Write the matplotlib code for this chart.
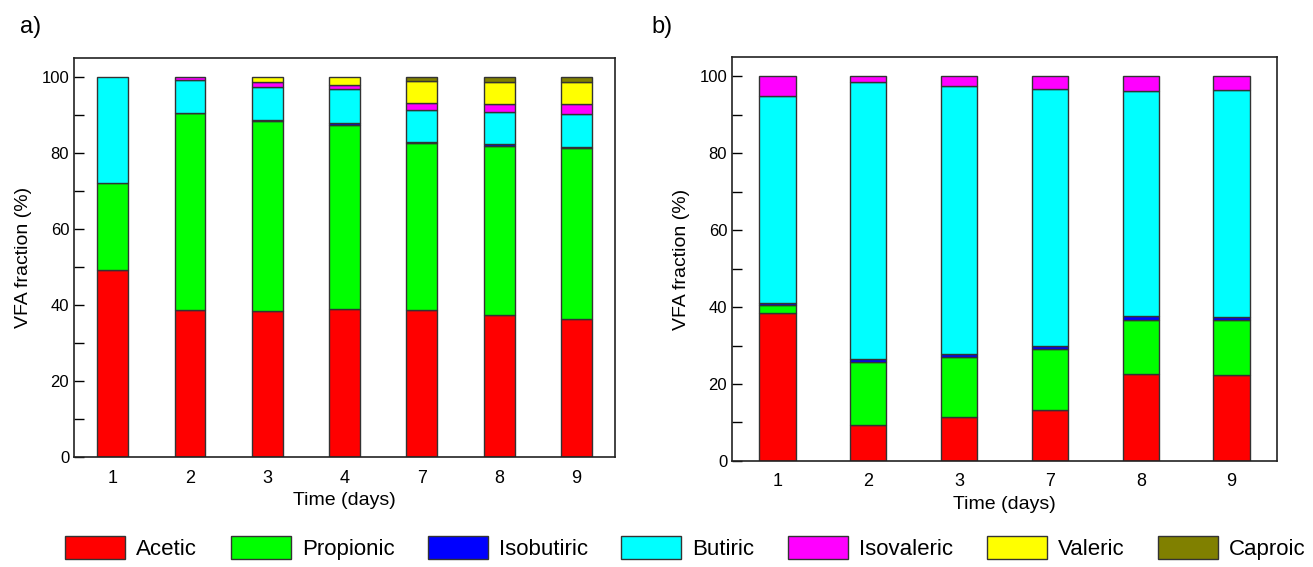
import matplotlib.pyplot as plt
from matplotlib.ticker import MultipleLocator
import numpy as np

plt.rcParams['font.family'] = ['Liberation Sans', 'DejaVu Sans']

acids = ['Acetic', 'Propionic', 'Isobutiric', 'Butiric', 'Isovaleric', 'Valeric', 'Caproic']
colors = ['#ff0000', '#00ff00', '#0000ff', '#00ffff', '#ff00ff', '#ffff00', '#808000']

# panel a)
days_a = ['1', '2', '3', '4', '7', '8', '9']
acetic_a = [49.1, 38.7, 38.3, 38.9, 38.7, 37.5, 36.3]
propionic_a = [22.9, 51.7, 50.0, 48.6, 43.9, 44.4, 44.9]
isobutiric_a = [0.0, 0.1, 0.3, 0.3, 0.3, 0.5, 0.4]
butiric_a = [28.0, 8.8, 8.7, 9.0, 8.4, 8.5, 8.6]
isovaleric_a = [0.0, 0.7, 1.3, 1.2, 1.9, 2.0, 2.6]
valeric_a = [0.0, 0.0, 1.4, 2.0, 5.7, 5.8, 5.9]
caproic_a = [0.0, 0.0, 0.0, 0.0, 1.1, 1.3, 1.3]

# panel b)
days_b = ['1', '2', '3', '7', '8', '9']
acetic_b = [38.4, 9.3, 11.3, 13.2, 22.6, 22.3]
propionic_b = [2.1, 16.5, 15.8, 15.9, 14.1, 14.3]
isobutiric_b = [0.5, 0.7, 0.6, 0.7, 1.0, 0.9]
butiric_b = [53.8, 71.9, 69.8, 66.8, 58.5, 58.9]
isovaleric_b = [5.2, 1.6, 2.5, 3.4, 3.8, 3.6]
valeric_b = [0.0, 0.0, 0.0, 0.0, 0.0, 0.0]
caproic_b = [0.0, 0.0, 0.0, 0.0, 0.0, 0.0]

series_a = [acetic_a, propionic_a, isobutiric_a, butiric_a, isovaleric_a, valeric_a, caproic_a]
series_b = [acetic_b, propionic_b, isobutiric_b, butiric_b, isovaleric_b, valeric_b, caproic_b]

fig = plt.figure(figsize=(13.13, 5.67), dpi=100)
ax1 = fig.add_axes([0.0564, 0.194, 0.412, 0.7037])
ax2 = fig.add_axes([0.5575, 0.187, 0.4151, 0.7125])


def stacked(ax, days, series):
    x = np.arange(len(days))
    bottom = np.zeros(len(days))
    handles = []
    for vals, c, name in zip(series, colors, acids):
        vals = np.array(vals)
        # skip empty segments so no stray edge lines are drawn
        b = ax.bar(x, np.where(vals > 0, vals, np.nan), 0.4, bottom=bottom, color=c,
                   edgecolor='#333333', linewidth=1.0, label=name)
        handles.append(b)
        bottom += vals
    ax.set_xlim(-0.5, len(days) - 0.5)
    ax.set_ylim(0, 105)
    ax.set_xticks(x)
    ax.set_xticklabels(days)
    ax.yaxis.set_major_locator(MultipleLocator(20))
    ax.yaxis.set_minor_locator(MultipleLocator(10))
    ax.tick_params(axis='y', which='both', direction='in', length=7, width=1, labelsize=12)
    ax.tick_params(axis='x', length=0, labelsize=13, pad=9)
    for s in ax.spines.values():
        s.set_linewidth(1.2)
        s.set_color('#222222')
    ax.set_ylabel('VFA fraction (%)', fontsize=14, labelpad=7)
    ax.set_xlabel('Time (days)', fontsize=14, labelpad=4)
    return handles


handles = stacked(ax1, days_a, series_a)
stacked(ax2, days_b, series_b)

fig.text(0.015, 0.952, 'a)', fontsize=17, va='center')
fig.text(0.496, 0.952, 'b)', fontsize=17, va='center')

fig.legend(handles, acids, loc='center', bbox_to_anchor=(0.522, 0.034), ncol=7,
           frameon=False, fontsize=16, handlelength=2.7, handleheight=1.2,
           columnspacing=1.5, handletextpad=0.5)

fig.savefig('out.png', dpi=100)
